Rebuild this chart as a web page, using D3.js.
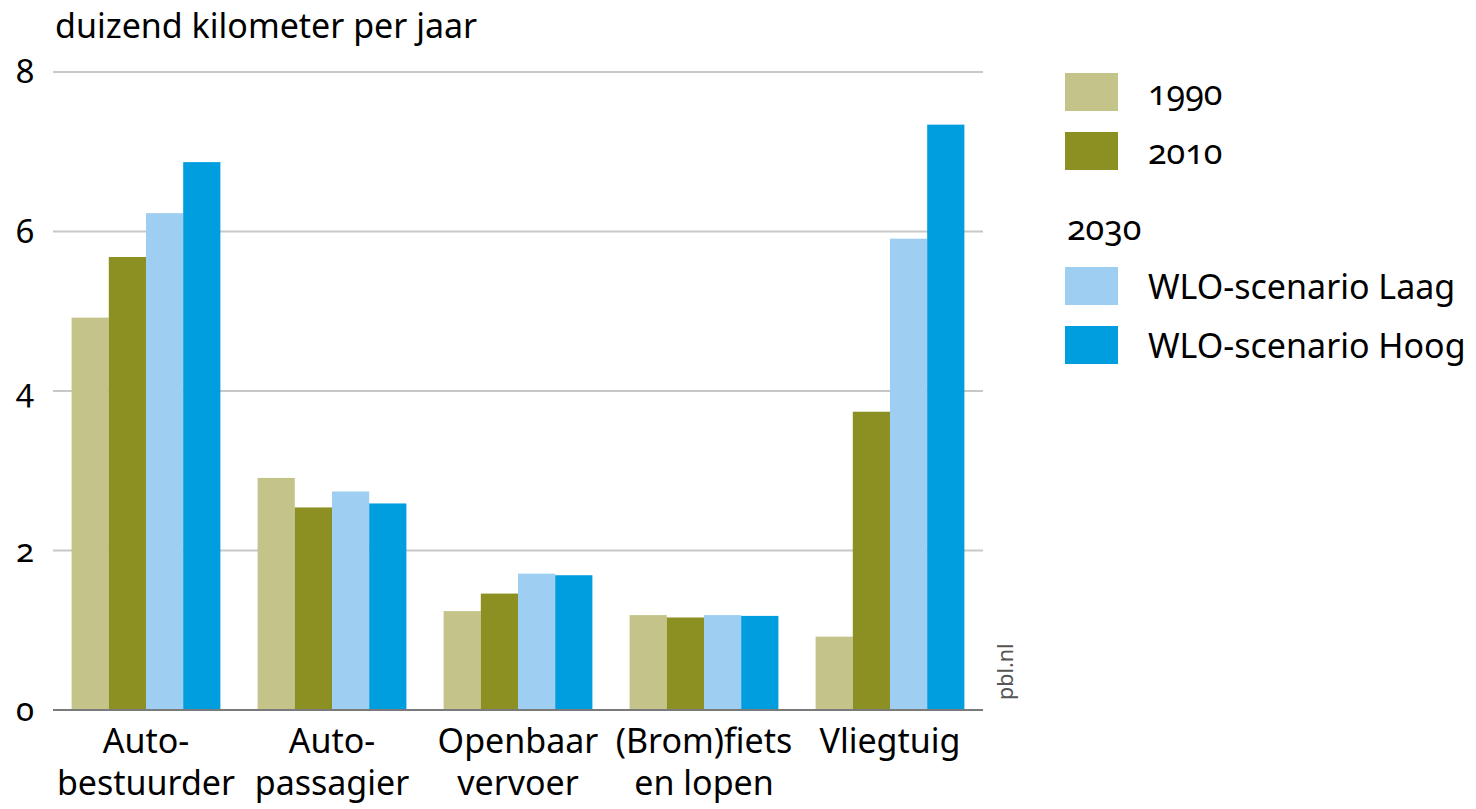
<!DOCTYPE html>
<html>
<head>
<meta charset="utf-8">
<script src="https://cdn.jsdelivr.net/npm/d3@7"></script>
<style>
  body { margin: 0; background: #fff; }
  svg text { font-family: "Noto Sans", "Open Sans", sans-serif; fill: #000; font-feature-settings: "onum" 1; }
</style>
</head>
<body>
<svg id="chart" width="1476" height="809"></svg>
<script>
// categories (two-line labels)
var categories = ["Auto-bestuurder", "Auto-passagier", "Openbaar vervoer", "(Brom)fiets en lopen", "Vliegtuig"];
var categoryLines = [["Auto-", "bestuurder"], ["Auto-", "passagier"], ["Openbaar", "vervoer"], ["(Brom)fiets", "en lopen"], ["Vliegtuig"]];

// series
var seriesKeys = ["1990", "2010", "WLO-scenario Laag", "WLO-scenario Hoog"];
var seriesColors = ["#c4c48a", "#8c9023", "#9ecef2", "#009ddf"];

// values (duizend km per jaar), per category
var values1990 = [4.92, 2.91, 1.24, 1.19, 0.92];
var values2010 = [5.68, 2.54, 1.46, 1.16, 3.74];
var valuesLaag = [6.23, 2.74, 1.71, 1.19, 5.91];
var valuesHoog = [6.87, 2.59, 1.69, 1.18, 7.34];

var yTicks = [0, 2, 4, 6, 8];

var allValues = [values1990, values2010, valuesLaag, valuesHoog];

var svg = d3.select("#chart");

var x = d3.scaleBand()
    .domain(categories)
    .range([53, 983])
    .paddingInner(0.2)
    .paddingOuter(0.1);

var xSub = d3.scaleBand()
    .domain(seriesKeys)
    .range([0, x.bandwidth()]);

var y = d3.scaleLinear()
    .domain([0, 8])
    .range([710, 72]);

// gridlines
svg.append("g")
    .selectAll("line")
    .data(yTicks.filter(function(d){ return d > 0; }))
    .enter()
    .append("line")
    .attr("x1", 53)
    .attr("x2", 983)
    .attr("y1", function(d){ return y(d); })
    .attr("y2", function(d){ return y(d); })
    .attr("stroke", "#c8c8c8")
    .attr("stroke-width", 2);

// y tick labels
svg.append("g")
    .selectAll("text")
    .data(yTicks)
    .enter()
    .append("text")
    .attr("x", 34)
    .attr("y", function(d){ return y(d) + 11; })
    .attr("text-anchor", "end")
    .style("font-size", "33px")
    .text(function(d){ return d; });

// bars
var rows = categories.map(function(c, i){
    return seriesKeys.map(function(k, j){
        return {cat: c, key: k, value: allValues[j][i], color: seriesColors[j]};
    });
});

svg.append("g")
    .selectAll("g")
    .data(rows)
    .enter()
    .append("g")
    .attr("transform", function(d){ return "translate(" + x(d[0].cat) + ",0)"; })
    .selectAll("rect")
    .data(function(d){ return d; })
    .enter()
    .append("rect")
    .attr("x", function(d){ return xSub(d.key); })
    .attr("width", xSub.bandwidth())
    .attr("y", function(d){ return y(d.value); })
    .attr("height", function(d){ return y(0) - y(d.value); })
    .attr("fill", function(d){ return d.color; });

// baseline
svg.append("line")
    .attr("x1", 53)
    .attr("x2", 983)
    .attr("y1", y(0))
    .attr("y2", y(0))
    .attr("stroke", "#7a7a7a")
    .attr("stroke-width", 2);

// category labels
var catLabels = svg.append("g")
    .selectAll("text")
    .data(categories)
    .enter()
    .append("text")
    .attr("text-anchor", "middle")
    .attr("x", function(d){ return x(d) + x.bandwidth() / 2; })
    .attr("y", 753)
    .style("font-size", "34px");

catLabels.selectAll("tspan")
    .data(function(d, i){ return categoryLines[i]; })
    .enter()
    .append("tspan")
    .attr("x", function(){ var p = d3.select(this.parentNode); return p.attr("x"); })
    .attr("dy", function(d, i){ return i === 0 ? 0 : 42; })
    .text(function(d){ return d; });

// y axis title
svg.append("text")
    .attr("x", 55)
    .attr("y", 38)
    .style("font-size", "34px")
    .text("duizend kilometer per jaar");

// source
svg.append("text")
    .attr("transform", "translate(1013,700) rotate(-90)")
    .style("font-size", "21.5px")
    .style("fill", "#555")
    .text("pbl.nl");

// legend
var legendY = [73, 132, 267, 326];
var legend = svg.append("g");

legend.selectAll("rect")
    .data(seriesKeys)
    .enter()
    .append("rect")
    .attr("x", 1065)
    .attr("y", function(d, i){ return legendY[i]; })
    .attr("width", 53)
    .attr("height", 38)
    .attr("fill", function(d, i){ return seriesColors[i]; });

legend.selectAll("text.item")
    .data(seriesKeys)
    .enter()
    .append("text")
    .attr("class", "item")
    .attr("x", 1148)
    .attr("y", function(d, i){ return legendY[i] + 32; })
    .style("font-size", "34px")
    .text(function(d){ return d; });

legend.append("text")
    .attr("x", 1067)
    .attr("y", 240)
    .style("font-size", "34px")
    .text("2030");
</script>
</body>
</html>
